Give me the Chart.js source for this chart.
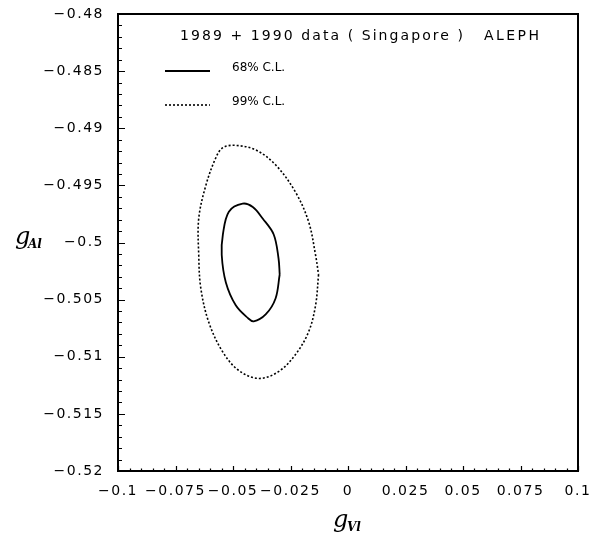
<!DOCTYPE html>
<html>
<head>
<meta charset="utf-8">
<script src="https://cdn.jsdelivr.net/npm/chart.js@4.4.0/dist/chart.umd.min.js"></script>
<style>
  body { margin: 0; background: #fff; }
  #wrap { width: 602px; height: 558px; }
</style>
</head>
<body>
<div id="wrap"><canvas id="contours" width="602" height="558"></canvas></div>
<script>
// tick values and labels
const xTickValues = [-0.1, -0.075, -0.05, -0.025, 0, 0.025, 0.05, 0.075, 0.1];
const xTickLabels = ['−0.1', '−0.075', '−0.05', '−0.025', '0', '0.025', '0.05', '0.075', '0.1'];
const yTickValues = [-0.52, -0.515, -0.51, -0.505, -0.5, -0.495, -0.49, -0.485, -0.48];
const yTickLabels = ['−0.52', '−0.515', '−0.51', '−0.505', '−0.5', '−0.495', '−0.49', '−0.485', '−0.48'];

// 68% C.L. contour (starting at its right edge)
const cl68X = [-0.0297, -0.0315, -0.0358, -0.0410, -0.0436, -0.0488, -0.0531, -0.0549, -0.0544, -0.0518, -0.0458, -0.0414, -0.0371, -0.0323, -0.0302];
const cl68Y = [-0.5028, -0.5049, -0.5063, -0.5069, -0.5066, -0.5055, -0.5035, -0.5011, -0.4993, -0.4973, -0.4966, -0.4969, -0.4979, -0.4993, -0.5014];

// 99% C.L. contour
const cl99X = [-0.0128, -0.0141, -0.0171, -0.0228, -0.0302, -0.0388, -0.0475, -0.0544, -0.0605, -0.0640, -0.0649, -0.0649, -0.0618, -0.0575, -0.0544, -0.0488, -0.0401, -0.0315, -0.0228, -0.0171, -0.0141];
const cl99Y = [-0.5028, -0.5055, -0.5078, -0.5098, -0.5113, -0.5119, -0.5112, -0.5096, -0.5070, -0.5040, -0.5011, -0.4979, -0.4950, -0.4926, -0.4917, -0.4915, -0.4919, -0.4932, -0.4956, -0.4982, -0.5011];

const seriesNames = ['68% C.L.', '99% C.L.'];
const headerText = '1989 + 1990 data ( Singapore )';
const expText = 'ALEPH';

function loop(xs, ys) {
  const pts = xs.map((x, i) => ({ x: x, y: ys[i] }));
  pts.push({ x: xs[0], y: ys[0] });
  return pts;
}

// text with stretched spacing so it fills a given width
function spacedText(ctx, text, x, y, width) {
  ctx.letterSpacing = '0px';
  const w = ctx.measureText(text).width;
  const sp = width ? Math.max(0, (width - w) / (text.length - 1)) : 0;
  ctx.letterSpacing = sp + 'px';
  ctx.fillText(text, x, y);
  ctx.letterSpacing = '0px';
}

const framePlugin = {
  id: 'frame',
  beforeDraw(chart) {
    chart.ctx.letterSpacing = '1.5px';
  },
  afterDraw(chart) {
    const ctx = chart.ctx;
    const a = chart.chartArea;
    const xs = chart.scales.x, ys = chart.scales.y;
    ctx.save();
    ctx.letterSpacing = '0px';
    ctx.strokeStyle = '#000';

    // inward ticks on left axis
    ctx.lineWidth = 1.2;
    ctx.beginPath();
    for (let k = 0; k <= 40; k++) {
      const v = -0.52 + k * 0.001;
      const py = Math.round(ys.getPixelForValue(v)) + 0.5;
      const len = k % 5 === 0 ? 7 : 4;
      ctx.moveTo(a.left, py);
      ctx.lineTo(a.left + len, py);
    }
    // inward ticks on bottom axis
    for (let k = 0; k <= 40; k++) {
      const v = -0.1 + k * 0.005;
      const px = Math.round(xs.getPixelForValue(v)) + 0.5;
      const len = k % 5 === 0 ? 5 : 2.5;
      ctx.moveTo(px, a.bottom);
      ctx.lineTo(px, a.bottom - len);
    }
    ctx.stroke();

    // frame
    ctx.lineWidth = 2;
    ctx.strokeRect(a.left, a.top, a.right - a.left, a.bottom - a.top);

    // header and legend
    ctx.fillStyle = '#000';
    ctx.textBaseline = 'middle';
    ctx.textAlign = 'left';
    ctx.font = '14px "DejaVu Sans"';
    spacedText(ctx, headerText, 180, 36, 283);
    spacedText(ctx, expText, 484, 36, 55);

    ctx.font = '12px "DejaVu Sans"';
    const rows = [71, 105];
    chart.data.datasets.forEach((ds, i) => {
      ctx.beginPath();
      ctx.lineWidth = ds.borderWidth;
      ctx.setLineDash(ds.borderDash || []);
      ctx.moveTo(165, rows[i]);
      ctx.lineTo(210, rows[i]);
      ctx.stroke();
      ctx.setLineDash([]);
      spacedText(ctx, ds.label, 232, rows[i] - 3, 52);
    });

    // axis titles
    ctx.textBaseline = 'alphabetic';
    ctx.font = 'italic 24px "DejaVu Serif"';
    ctx.fillText('g', 15, 244);
    ctx.font = 'italic bold 12px "DejaVu Serif"';
    ctx.fillText('Al', 28, 248);
    ctx.font = 'italic 24px "DejaVu Serif"';
    ctx.fillText('g', 333, 527);
    ctx.font = 'italic bold 12px "DejaVu Serif"';
    ctx.fillText('Vl', 347, 531);
    ctx.restore();
  }
};

new Chart(document.getElementById('contours').getContext('2d'), {
  type: 'scatter',
  data: {
    datasets: [
      {
        label: seriesNames[0],
        data: loop(cl68X, cl68Y),
        showLine: true,
        borderColor: '#000',
        borderWidth: 1.8,
        pointRadius: 0,
        tension: 0.35
      },
      {
        label: seriesNames[1],
        data: loop(cl99X, cl99Y),
        showLine: true,
        borderColor: '#000',
        borderWidth: 1.6,
        borderDash: [2, 2],
        pointRadius: 0,
        tension: 0.35
      }
    ]
  },
  options: {
    responsive: false,
    animation: false,
    layout: { padding: { left: 0, top: 14, right: 24, bottom: 0 } },
    plugins: { legend: { display: false }, tooltip: { enabled: false } },
    scales: {
      x: {
        type: 'linear',
        min: -0.1,
        max: 0.1,
        grid: { display: false, drawTicks: false },
        border: { display: false },
        afterBuildTicks: s => { s.ticks = xTickValues.map(v => ({ value: v })); },
        afterFit: s => { s.height = 87; s.paddingLeft = 0; s.paddingRight = 0; },
        ticks: {
          autoSkip: false,
          maxRotation: 0,
          padding: 12,
          color: '#000',
          font: { family: 'DejaVu Sans', size: 14 },
          callback: (v, i) => xTickLabels[i]
        }
      },
      y: {
        type: 'linear',
        min: -0.52,
        max: -0.48,
        grid: { display: false, drawTicks: false },
        border: { display: false },
        afterBuildTicks: s => { s.ticks = yTickValues.map(v => ({ value: v })); },
        afterFit: s => { s.width = 118; s.paddingTop = 0; s.paddingBottom = 0; },
        ticks: {
          autoSkip: false,
          padding: 14,
          color: '#000',
          font: { family: 'DejaVu Sans', size: 14 },
          callback: (v, i) => yTickLabels[i]
        }
      }
    }
  },
  plugins: [framePlugin]
});
</script>
</body>
</html>
